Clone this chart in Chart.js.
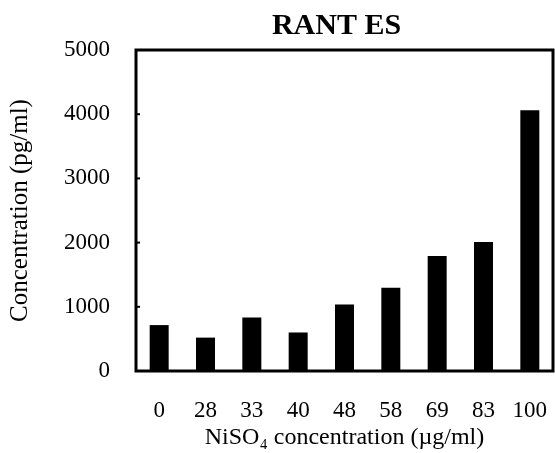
<!DOCTYPE html>
<html>
<head>
<meta charset="utf-8">
<script src="https://cdn.jsdelivr.net/npm/chart.js@4/dist/chart.umd.min.js"></script>
<style>
html,body{margin:0;padding:0;background:#fff;}
#wrap{width:555px;height:453px;}
</style>
</head>
<body>
<div id="wrap"><canvas id="c" width="555" height="453"></canvas></div>
<script>
const categories = ["0", "28", "33", "40", "48", "58", "69", "83", "100"];
const rantesValues = [715, 520, 835, 600, 1035, 1295, 1790, 2010, 4060];
const yTicks = [0, 1000, 2000, 3000, 4000, 5000];
const chartTitle = 'RANT ES';

const FONT = "'Liberation Serif', 'Times New Roman', serif";

const framePlugin = {
  id: 'frame',
  afterDatasetsDraw(chart) {
    const {ctx, chartArea: a, scales: {y}} = chart;
    ctx.save();
    ctx.strokeStyle = '#000';
    ctx.lineWidth = 3;
    ctx.strokeRect(a.left, a.top, a.right - a.left, a.bottom - a.top);
    ctx.lineWidth = 2;
    y.ticks.forEach((t, i) => {
      if (t.value === 0 || t.value === 5000) return;
      const py = y.getPixelForTick(i);
      ctx.beginPath();
      ctx.moveTo(a.left, py);
      ctx.lineTo(a.left + 4, py);
      ctx.stroke();
    });
    // title centred over the plot area (slightly left of centre as in reference)
    ctx.fillStyle = '#000';
    ctx.font = 'bold 30px ' + FONT;
    ctx.textAlign = 'center';
    ctx.textBaseline = 'middle';
    ctx.fillText(chartTitle, (a.left + a.right) / 2 - 8, a.top - 24);
    ctx.restore();
  }
};

new Chart(document.getElementById('c'), {
  type: 'bar',
  data: {
    labels: categories,
    datasets: [{
      label: 'RANTES',
      data: rantesValues,
      backgroundColor: '#000',
      borderWidth: 0,
      categoryPercentage: 1,
      barPercentage: 0.41
    }]
  },
  options: {
    responsive: false,
    animation: false,
    devicePixelRatio: 1,
    layout: {padding: {left: 0, right: 2, top: 50, bottom: 0}},
    plugins: {
      legend: {display: false},
      tooltip: {enabled: false},
      title: {display: false}
    },
    scales: {
      x: {
        grid: {display: false, drawTicks: false},
        border: {display: false},
        ticks: {color: '#000', font: {family: FONT, size: 23}, padding: 26, maxRotation: 0},
        title: {
          display: true,
          text: 'NiSO\u2084 concentration (\u00b5g/ml)',
          color: '#000',
          font: {family: FONT, size: 24},
          padding: {top: 0, bottom: 1}
        },
        afterFit(s) { s.height = 82; s.paddingLeft = 0; s.paddingRight = 0; }
      },
      y: {
        min: 0,
        max: 5000,
        afterBuildTicks(s) { s.ticks = yTicks.map(v => ({value: v})); },
        grid: {display: false, drawTicks: false},
        border: {display: false},
        ticks: {
          color: '#000',
          font: {family: FONT, size: 23},
          padding: 26,
          callback: v => String(v)
        },
        title: {
          display: true,
          text: 'Concentration (pg/ml)',
          color: '#000',
          font: {family: FONT, size: 25},
          padding: {top: 5, bottom: 0}
        },
        afterFit(s) { s.width = 136; s.paddingTop = 0; s.paddingBottom = 0; }
      }
    }
  },
  plugins: [framePlugin]
});
</script>
</body>
</html>
